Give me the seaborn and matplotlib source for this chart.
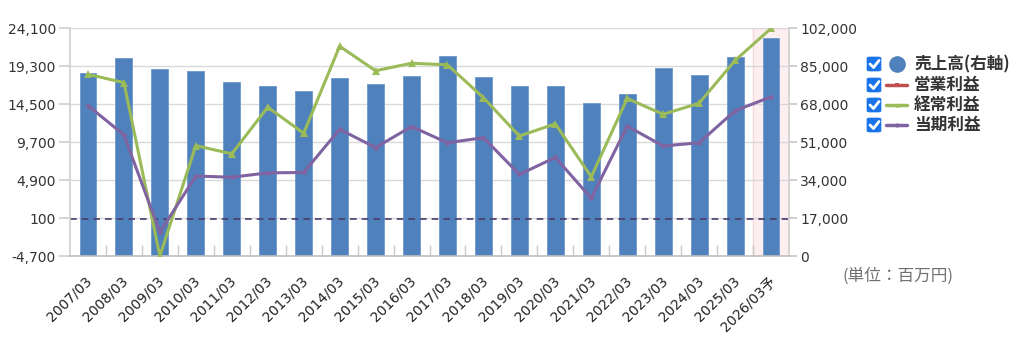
import numpy as np
import pandas as pd
import matplotlib
matplotlib.use("Agg")
import matplotlib.pyplot as plt
import matplotlib.transforms as mtrans
import seaborn as sns
from matplotlib.patches import FancyBboxPatch
from matplotlib.lines import Line2D

periods = ["2007/03", "2008/03", "2009/03", "2010/03", "2011/03", "2012/03", "2013/03",
           "2014/03", "2015/03", "2016/03", "2017/03", "2018/03", "2019/03", "2020/03",
           "2021/03", "2022/03", "2023/03", "2024/03", "2025/03", "2026/03予"]
sales = [81700, 88400, 83500, 82900, 78000, 76000, 73800, 79800, 76800, 80400,
         89600, 79900, 76200, 76200, 68300, 72600, 84100, 81100, 88900, 97400]
ordinary_profit = [18250, 17200, -4700, 9250, 8200, 14100, 10800, 21800, 18700, 19650,
                   19450, 15300, 10450, 12000, 5300, 15200, 13200, 14600, 20000, 24050]
net_profit = [14300, 10600, -1700, 5400, 5250, 5800, 5850, 11300, 9000, 11650,
              9600, 10250, 5600, 7750, 2600, 11700, 9200, 9600, 13650, 15400]
left_ticks = [-4700, 100, 4900, 9700, 14500, 19300, 24100]
right_ticks = [0, 17000, 34000, 51000, 68000, 85000, 102000]
legend_labels = ["売上高(右軸)", "営業利益", "経常利益", "当期利益"]

BLUE = "#4f81bd"
RED = "#c0504d"
GREEN = "#9bbb59"
PURPLE = "#8064a2"

sns.set_theme(style="white")
plt.rcParams["font.family"] = ["DejaVu Sans", "Noto Sans CJK JP"]

W, H = 1024, 352
fig = plt.figure(figsize=(W / 100, H / 100), dpi=100)
fx = lambda x: x / W
fy = lambda y: 1 - y / H

ax = fig.add_axes([fx(70), fy(256), (789 - 70) / W, (256 - 28) / H])
df = pd.DataFrame({"period": periods, "sales": sales})
idx = np.arange(len(periods))

# highlight forecast column
ax.axvspan(len(periods) - 1.5, len(periods) - 0.5, facecolor="#fdeff0",
           edgecolor="#f6d6da", lw=1, zorder=0)

sns.barplot(data=df, x="period", y="sales", ax=ax, color=BLUE, saturation=1,
            width=0.47, edgecolor="#6f97cc", linewidth=0.6, zorder=2)
ax.set_xlim(-0.5, len(periods) - 0.5)
ax.yaxis.grid(True, color="#d9d9d9", lw=1)
ax.set_axisbelow(True)
ax.set_xlabel("")
ax.set_ylabel("")
ax.set_xticks(idx)
ax.set_xticklabels(periods)
ax.tick_params(axis="x", which="major", bottom=False, labelsize=10,
               labelcolor="#222222", pad=3)
offset = mtrans.ScaledTranslation(-3 / 100, -5 / 100, fig.dpi_scale_trans)
for lab in ax.get_xticklabels():
    lab.set_rotation(45)
    lab.set_ha("right")
    lab.set_rotation_mode("anchor")
    lab.set_transform(lab.get_transform() + offset)
ax.set_xticks(np.arange(0.5, len(periods) - 1, 1), minor=True)
ax.tick_params(axis="x", which="minor", bottom=True, direction="in", length=8,
               color="#c8c8c8", width=1)
for s in ax.spines.values():
    s.set_visible(False)

ax2 = ax.twinx()
ax2.patch.set_visible(False)
ax2.axhline(0, color="#4b3b6b", lw=1.2, ls=(0, (4, 3)), zorder=1)
sns.lineplot(x=idx, y=ordinary_profit, ax=ax2, color=GREEN, lw=2.2, marker="^",
             markersize=6, markeredgewidth=0, zorder=3)
sns.lineplot(x=idx, y=net_profit, ax=ax2, color=PURPLE, lw=2.2, marker="o",
             markersize=3.5, markeredgewidth=0, zorder=3)
ax2.set_ylim(-4700, 24100)
ax2.set_yticks(left_ticks)
ax2.set_yticklabels([f"{v:,}" for v in left_ticks])
ax2.set_xlim(-0.5, len(periods) - 0.5)
ax2.spines["top"].set_visible(False)
ax2.spines["left"].set_color("#d0d0d0")
ax2.spines["right"].set_color("#d0d0d0")
ax2.spines["bottom"].set_color("#bfbfbf")
for k in ["left", "right", "bottom"]:
    ax2.spines[k].set_linewidth(1.2)

# swap sides: sales axis on the right, profit axis on the left
ax.set_ylim(0, 102000)
ax.set_yticks(right_ticks)
ax.set_yticklabels([f"{v:,}" for v in right_ticks])
ax.yaxis.tick_right()
ax.yaxis.set_label_position("right")
ax.tick_params(axis="y", which="major", right=True, left=False, labelright=True,
               labelleft=False, direction="out", length=6, color="#c8c8c8",
               labelsize=10, labelcolor="#333333", pad=2)
ax2.yaxis.tick_left()
ax2.yaxis.set_label_position("left")
ax2.tick_params(axis="y", left=True, right=False, labelleft=True, labelright=False,
                direction="out", length=8, color="#d0d0d0", labelsize=10,
                labelcolor="#333333", pad=2)
ax2.set_ylabel("")

# legend with checkboxes
rows = [64, 85, 105, 125]
for i, (lab, y) in enumerate(zip(legend_labels, rows)):
    box = FancyBboxPatch((fx(867), fy(y + 7)), 14 / W, 14 / H,
                         boxstyle="round,pad=0,rounding_size=0.003",
                         transform=fig.transFigure, facecolor="#1a73e8",
                         edgecolor="#1a73e8", lw=0.5)
    fig.patches.append(box)
    fig.lines.append(Line2D([fx(870), fx(873.5), fx(879)], [fy(y), fy(y + 3.5), fy(y - 3.5)],
                            transform=fig.transFigure, color="white", lw=2,
                            solid_capstyle="round", solid_joinstyle="round"))
    if i == 0:
        fig.lines.append(Line2D([fx(897)], [fy(y)], transform=fig.transFigure,
                                color=BLUE, marker="o", markersize=12,
                                markeredgewidth=0, linestyle="none"))
    else:
        col, mk = [(RED, "s"), (GREEN, "^"), (PURPLE, "o")][i - 1]
        fig.lines.append(Line2D([fx(886), fx(907)], [fy(y), fy(y)],
                                transform=fig.transFigure, color=col, lw=2.5))
        fig.lines.append(Line2D([fx(896.5)], [fy(y)], transform=fig.transFigure,
                                color=col, marker=mk, markersize=3, markeredgewidth=0))
    fig.text(fx(914), fy(y), lab, ha="left", va="center", size=12,
             fontweight="bold", color="#333333",
             family=["Noto Sans CJK JP", "DejaVu Sans"])

fig.text(fx(898), fy(276), "(単位：百万円)", ha="center", va="center", size=12,
         color="#707070", family=["Noto Sans CJK JP", "DejaVu Sans"])

fig.savefig("out.png", dpi=100)
